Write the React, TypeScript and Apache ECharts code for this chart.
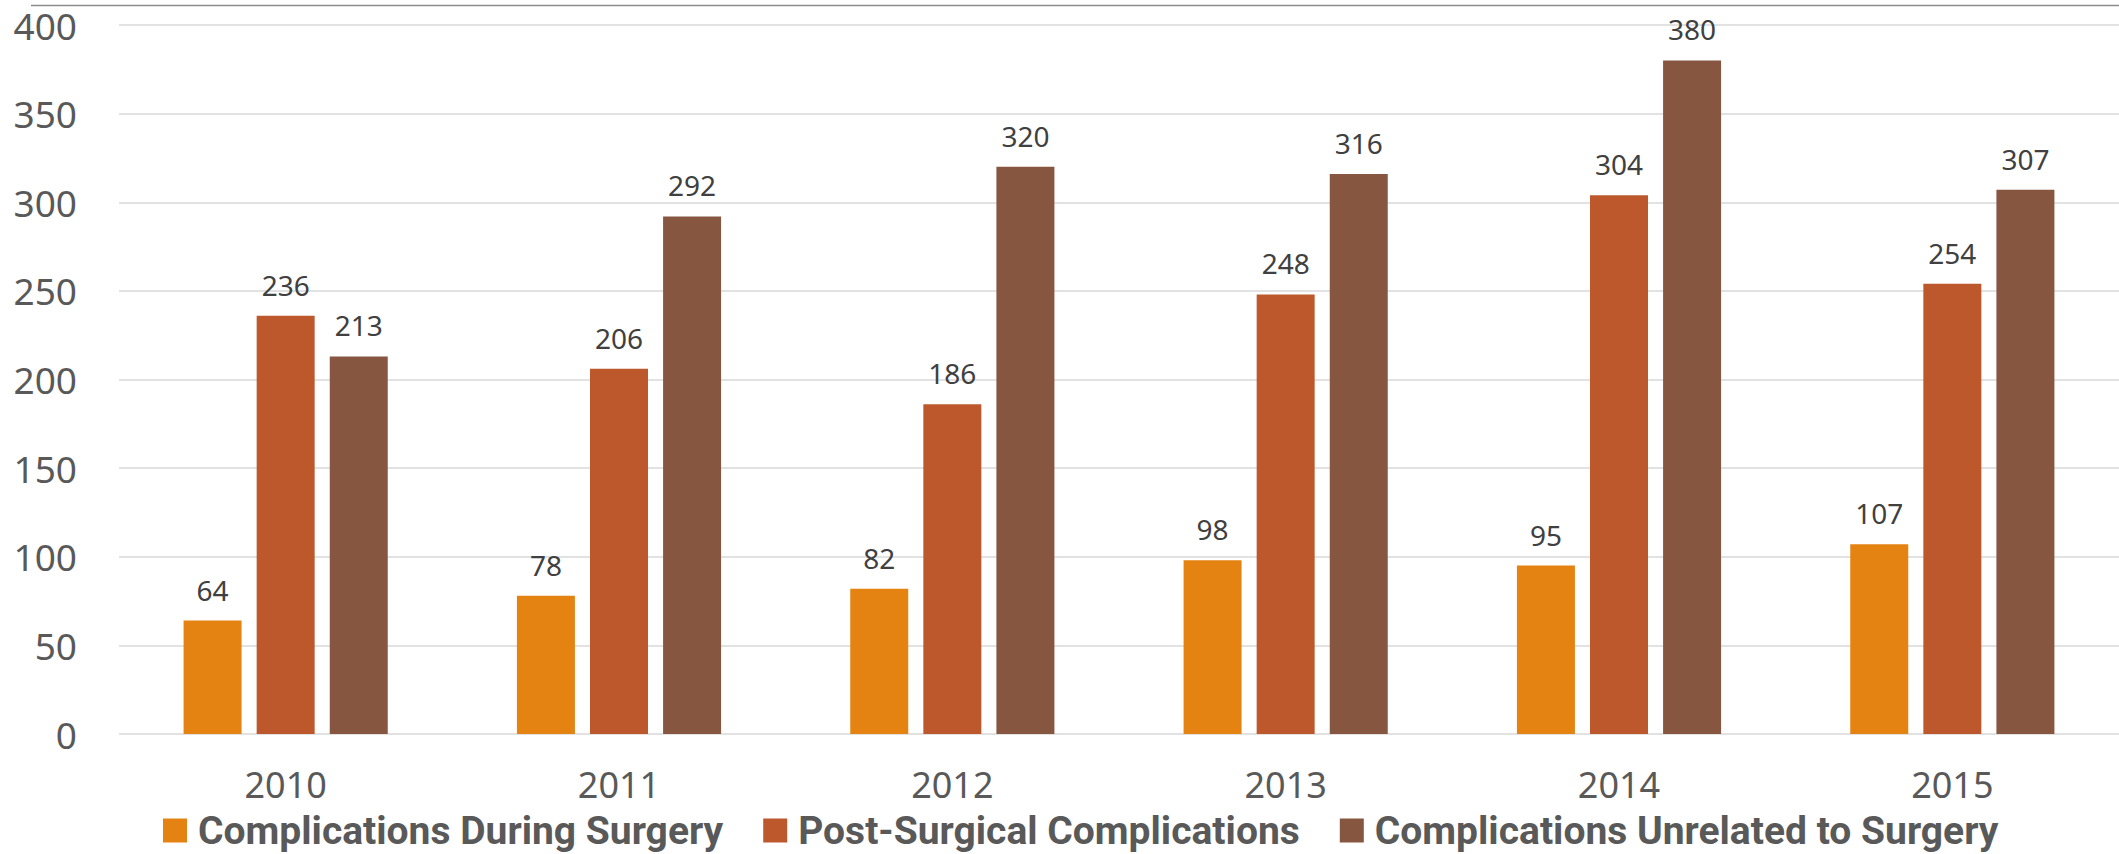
import React, { useEffect, useRef } from "react";
import * as echarts from "echarts";

const years = ["2010", "2011", "2012", "2013", "2014", "2015"];
const seriesNames = [
  "Complications During Surgery",
  "Post-Surgical Complications",
  "Complications Unrelated to Surgery",
];
const duringSurgery = [64, 78, 82, 98, 95, 107];
const postSurgical = [236, 206, 186, 248, 304, 254];
const unrelated = [213, 292, 320, 316, 380, 307];
const colors = ["#E48312", "#BD582C", "#865640"];

export default function App() {
  const ref = useRef<HTMLDivElement>(null);
  useEffect(() => {
    if (!ref.current) return;
    const chart = echarts.init(ref.current, null, { renderer: "svg" });
    const values = [duringSurgery, postSurgical, unrelated];
    chart.setOption({
      animation: false,
      backgroundColor: "#ffffff",
      grid: { left: 119, right: 0, top: 25, bottom: 120, containLabel: false },
      graphic: [
        {
          type: "line",
          shape: { x1: 31, y1: 5.5, x2: 2119, y2: 5.5 },
          style: { stroke: "#8c8c8c", lineWidth: 1.5 },
          silent: true,
        },
      ],
      legend: {
        left: 158,
        top: 806,
        itemWidth: 24,
        itemHeight: 24,
        itemGap: 40,
        icon: "rect",
        data: seriesNames,
        textStyle: {
          fontFamily: "Roboto",
          fontWeight: "bold",
          fontSize: 39,
          lineHeight: 34,
          color: "#595959",
          padding: [0, 0, 0, 6],
        },
      },
      xAxis: {
        type: "category",
        data: years,
        axisLine: { show: false },
        axisTick: { show: false },
        axisLabel: {
          margin: 35,
          fontFamily: "Noto Sans",
          fontSize: 36,
          lineHeight: 30,
          color: "#595959",
        },
      },
      yAxis: {
        type: "value",
        min: 0,
        max: 400,
        interval: 50,
        axisLine: { show: false },
        axisTick: { show: false },
        splitLine: { lineStyle: { color: "#d9d9d9", width: 1.5 } },
        axisLabel: {
          margin: 42,
          fontFamily: "Noto Sans",
          fontSize: 37,
          color: "#595959",
        },
      },
      series: seriesNames.map((name, i) => ({
        name,
        type: "bar",
        data: values[i],
        barWidth: 58,
        barGap: "26%",
        itemStyle: { color: colors[i] },
        label: {
          show: true,
          position: "top",
          distance: 17,
          fontFamily: "Noto Sans",
          fontSize: 28,
          lineHeight: 28,
          color: "#404040",
        },
      })),
    });
    return () => chart.dispose();
  }, []);
  return (
    <div
      ref={ref}
      style={{ position: "absolute", left: 0, top: 0, width: 2119, height: 854 }}
    />
  );
}
